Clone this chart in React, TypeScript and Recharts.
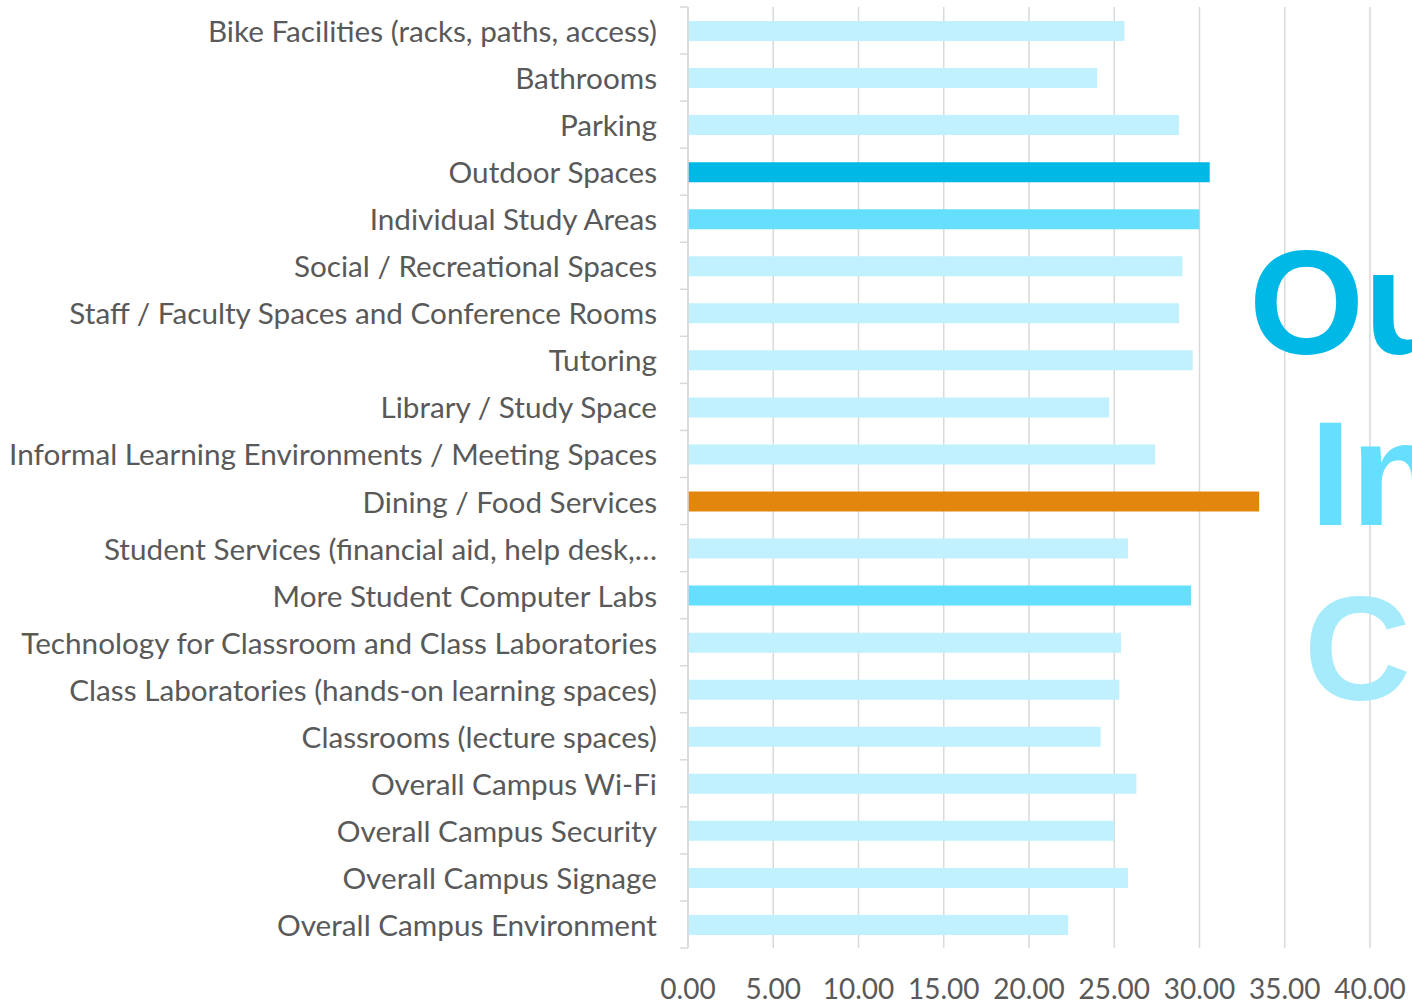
import { BarChart, Bar, XAxis, YAxis, CartesianGrid, Cell } from 'recharts';

const categories = [
  'Bike Facilities (racks, paths, access)',
  'Bathrooms',
  'Parking',
  'Outdoor Spaces',
  'Individual Study Areas',
  'Social / Recreational Spaces',
  'Staff / Faculty Spaces and Conference Rooms',
  'Tutoring',
  'Library / Study Space',
  'Informal Learning Environments / Meeting Spaces',
  'Dining / Food Services',
  'Student Services (financial aid, help desk,…',
  'More Student Computer Labs',
  'Technology for Classroom and Class Laboratories',
  'Class Laboratories (hands-on learning spaces)',
  'Classrooms (lecture spaces)',
  'Overall Campus Wi-Fi',
  'Overall Campus Security',
  'Overall Campus Signage',
  'Overall Campus Environment',
];

const scores = [
  25.6, 24.0, 28.8, 30.6, 30.0, 29.0, 28.8, 29.6, 24.7, 27.4,
  33.5, 25.8, 29.5, 25.4, 25.3, 24.2, 26.3, 25.0, 25.8, 22.3,
];

const xTicks = [0, 5, 10, 15, 20, 25, 30, 35, 40];

const highlights: Record<string, string> = {
  'Outdoor Spaces': '#00b8e6',
  'Individual Study Areas': '#66dffe',
  'More Student Computer Labs': '#66dffe',
  'Dining / Food Services': '#e3860e',
};
const baseColor = '#c1f0fe';

const overlayWords = [
  { text: 'Outdoor', color: '#00b8e6' },
  { text: 'Individual', color: '#66dffe' },
  { text: 'Computer', color: '#a6ebfc' },
];

const data = categories.map((name, i) => ({ name, score: scores[i] }));

const labelFont = 'Lato, "Open Sans", sans-serif';
const textColor = '#595959';
const gridColor = '#d9d9d9';

function CategoryTick(props: any) {
  const { x, y, payload, index } = props;
  const half = payload?.offset ?? 23.5;
  return (
    <g>
      <line x1={x - 8} x2={x} y1={y - half} y2={y - half} stroke={gridColor} strokeWidth={1.5} />
      {index === categories.length - 1 && (
        <line x1={x - 8} x2={x} y1={y + half} y2={y + half} stroke={gridColor} strokeWidth={1.5} />
      )}
      <text
        x={x - 31}
        y={y}
        textAnchor="end"
        dominantBaseline="central"
        fill={textColor}
        fontSize={29.7}
        fontFamily={labelFont}
      >
        {payload.value}
      </text>
    </g>
  );
}

export default function App() {
  return (
    <div
      style={{
        position: 'absolute',
        left: 0,
        top: 0,
        width: 1412,
        height: 1004,
        overflow: 'hidden',
        background: '#fff',
      }}
    >
      <BarChart
        width={1412}
        height={1004}
        data={data}
        layout="vertical"
        margin={{ top: 7, right: 42, left: 0, bottom: 0 }}
      >
        <CartesianGrid horizontal={false} stroke={gridColor} strokeWidth={1.5} />
        <XAxis
          type="number"
          domain={[0, 40]}
          ticks={xTicks}
          interval={0}
          tickFormatter={(v: number) => v.toFixed(2)}
          axisLine={false}
          tickLine={false}
          tickSize={0}
          tickMargin={31}
          height={56}
          tick={{ fill: textColor, fontSize: 28, fontFamily: labelFont }}
        />
        <YAxis
          type="category"
          dataKey="name"
          width={688}
          interval={0}
          tickSize={0}
          tickMargin={0}
          axisLine={{ stroke: gridColor, strokeWidth: 1.5 }}
          tickLine={false}
          tick={<CategoryTick />}
        />
        <Bar dataKey="score" barSize={20} isAnimationActive={false}>
          {data.map((d, i) => (
            <Cell key={`cell-${i}`} fill={highlights[d.name] ?? baseColor} />
          ))}
        </Bar>
      </BarChart>
      <svg
        width={1412}
        height={1004}
        style={{ position: 'absolute', left: 0, top: 0, pointerEvents: 'none' }}
      >
        {overlayWords.map((w, i) => (
          <text
            key={w.text}
            x={[1249, 1310, 1304][i]}
            y={[354, 525, 700][i]}
            fill={w.color}
            fontSize={148}
            fontWeight="bold"
            fontFamily='"Liberation Sans", Arial, sans-serif'
          >
            {w.text}
          </text>
        ))}
      </svg>
    </div>
  );
}
